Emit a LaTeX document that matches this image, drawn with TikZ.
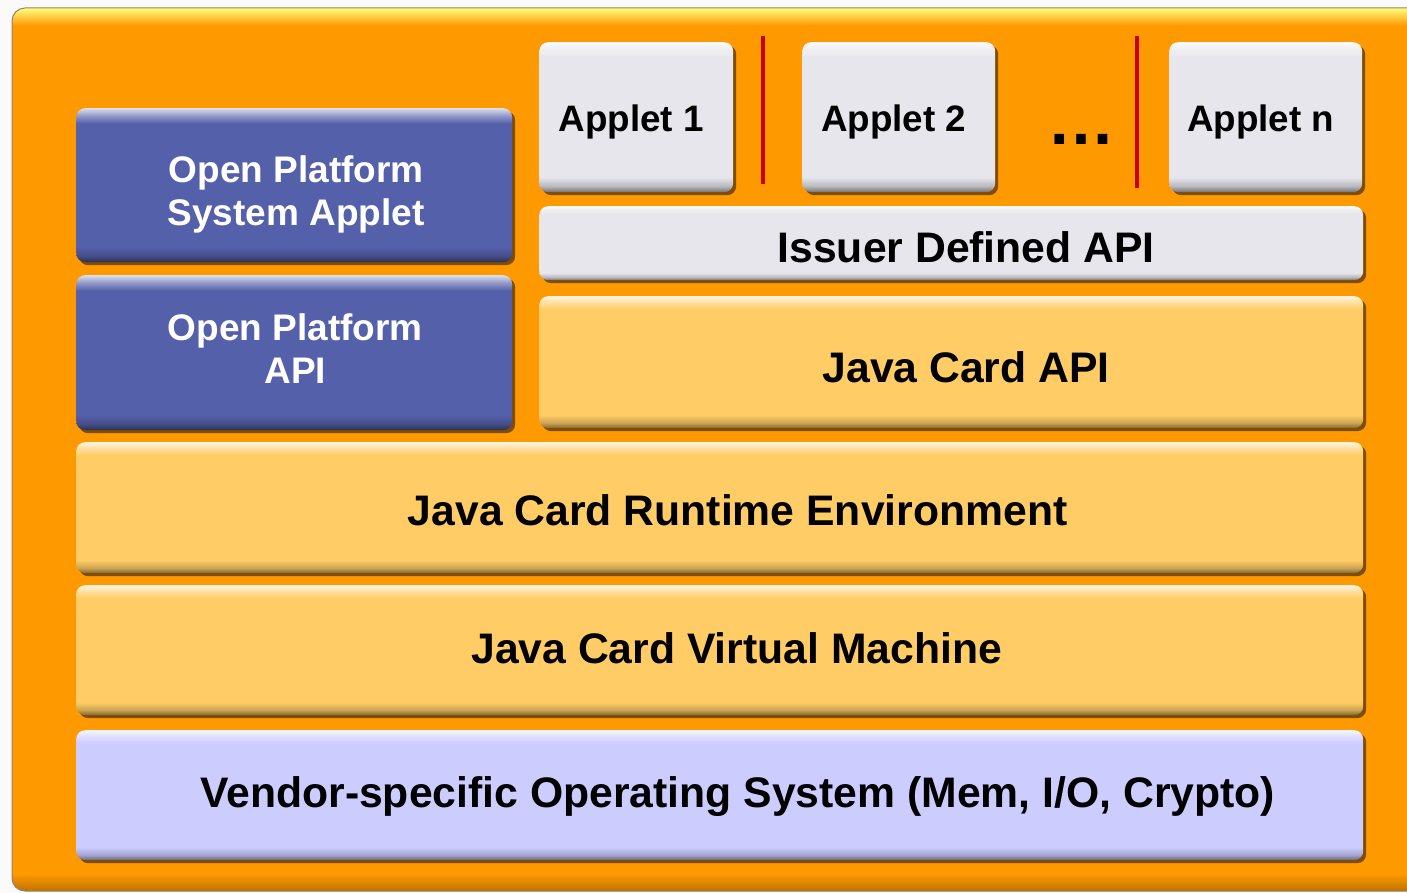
\documentclass[tikz,border=0pt]{standalone}
\usepackage{fontspec}
\setmainfont{Liberation Sans}
\usetikzlibrary{shadows}
\definecolor{panelorange}{HTML}{FF9900}
\definecolor{opblue}{HTML}{5560AA}
\definecolor{jcyellow}{HTML}{FFCC66}
\definecolor{appgray}{HTML}{E6E6EC}
\definecolor{oslav}{HTML}{CCCCFF}
\definecolor{sepred}{HTML}{CC0000}
\definecolor{shadowbrown}{HTML}{4A2E00}
\colorlet{C}{jcyellow}
\pgfdeclareverticalshading[C]{glossy}{100bp}{color(0bp)=(C!50!black); color(25bp)=(C!50!black); color(27bp)=(C!80!black); color(30bp)=(C); color(70bp)=(C); color(72.5bp)=(white!35!C); color(75bp)=(white!80!C); color(100bp)=(white!80!C)}
\pgfdeclareverticalshading[C]{panelshade}{100bp}{color(0bp)=(C!75!black); color(25bp)=(C!75!black); color(26bp)=(C); color(74bp)=(C); color(75bp)=(yellow!50!white); color(100bp)=(yellow!50!white)}
\tikzset{
  every node/.style={font=\bfseries\fontsize{42.7}{43}\selectfont, inner sep=0pt},
  box/.style={/utils/exec={\colorlet{C}{#1}}, shading=glossy, rounded corners=9pt,
    rectangle, anchor=north west,
    drop shadow={shadow xshift=3pt, shadow yshift=-3pt, fill=shadowbrown, opacity=0.7}},
  bigtxt/.style={text height=30.5pt, text depth=0pt, align=center},
  smalltxt/.style={font=\bfseries\fontsize{37}{43}\selectfont, text height=69.5pt, text depth=0pt, align=center, text=white},
  apptxt/.style={font=\bfseries\fontsize{36.8}{40}\selectfont, text height=26.3pt, text depth=0pt},
  sep/.style={draw=sepred, line width=4.5pt}
}
\begin{document}
\begin{tikzpicture}[x=1pt, y=-1pt]
\useasboundingbox (0,0) rectangle (1407,893);
\fill[white!96!gray] (0,0) rectangle (1407,893);
% outer panel
\path[/utils/exec={\colorlet{C}{panelorange}}, shading=panelshade, draw=gray!60!brown, line width=1pt, rounded corners=13pt]
  (12,8) rectangle (1440,891);
% left column
\node[box=opblue, minimum width=436pt, minimum height=154pt,
  label={[smalltxt, xshift=2pt, yshift=-5.5pt]center:Open Platform\\System Applet}] (ops) at (76,108) {};
\node[box=opblue, minimum width=436pt, minimum height=155pt,
  label={[smalltxt, xshift=1pt, yshift=4pt]center:Open Platform\\API}] (opapi) at (76,275) {};
% applets
\node[box=appgray, minimum width=194pt, minimum height=150pt,
  label={[apptxt, xshift=-5pt, yshift=-1pt]center:Applet 1}] (app1) at (539,42) {};
\node[box=appgray, minimum width=193pt, minimum height=150pt,
  label={[apptxt, xshift=-5pt, yshift=-1pt]center:Applet 2}] (app2) at (802,42) {};
\node[box=appgray, minimum width=193pt, minimum height=150pt,
  label={[apptxt, xshift=-5pt, yshift=-1pt]center:Applet n}] (appn) at (1169,42) {};
\node[font=\bfseries\fontsize{68}{68}\selectfont, anchor=base] (dots) at (1081,145) {…};
% separators
\coordinate (s1t) at (763,36); \coordinate (s1b) at (763,184);
\coordinate (s2t) at (1137,36); \coordinate (s2b) at (1137,188);
\draw[sep] (s1t) -- (s1b);
\draw[sep] (s2t) -- (s2b);
% right column
\node[box=appgray, minimum width=824pt, minimum height=74pt,
  label={[bigtxt, xshift=15pt, yshift=-4pt]center:Issuer Defined API}] (issuer) at (539,206) {};
\node[box=jcyellow, minimum width=824pt, minimum height=132pt,
  label={[bigtxt, xshift=15pt, yshift=-5pt]center:Java Card API}] (jcapi) at (539,296) {};
% full-width layers
\node[box=jcyellow, minimum width=1287pt, minimum height=131pt,
  label={[bigtxt, xshift=18pt, yshift=-2.5pt]center:Java Card Runtime Environment}] (jcre) at (76,442) {};
\node[box=jcyellow, minimum width=1287pt, minimum height=130pt,
  label={[bigtxt, xshift=17pt, yshift=2pt]center:Java Card Virtual Machine}] (jcvm) at (76,585) {};
\node[box=oslav, minimum width=1287pt, minimum height=130pt,
  label={[bigtxt, xshift=18pt, yshift=3pt]center:Vendor-specific Operating System (Mem, I/O, Crypto)}] (os) at (76,730) {};
\end{tikzpicture}
\end{document}
